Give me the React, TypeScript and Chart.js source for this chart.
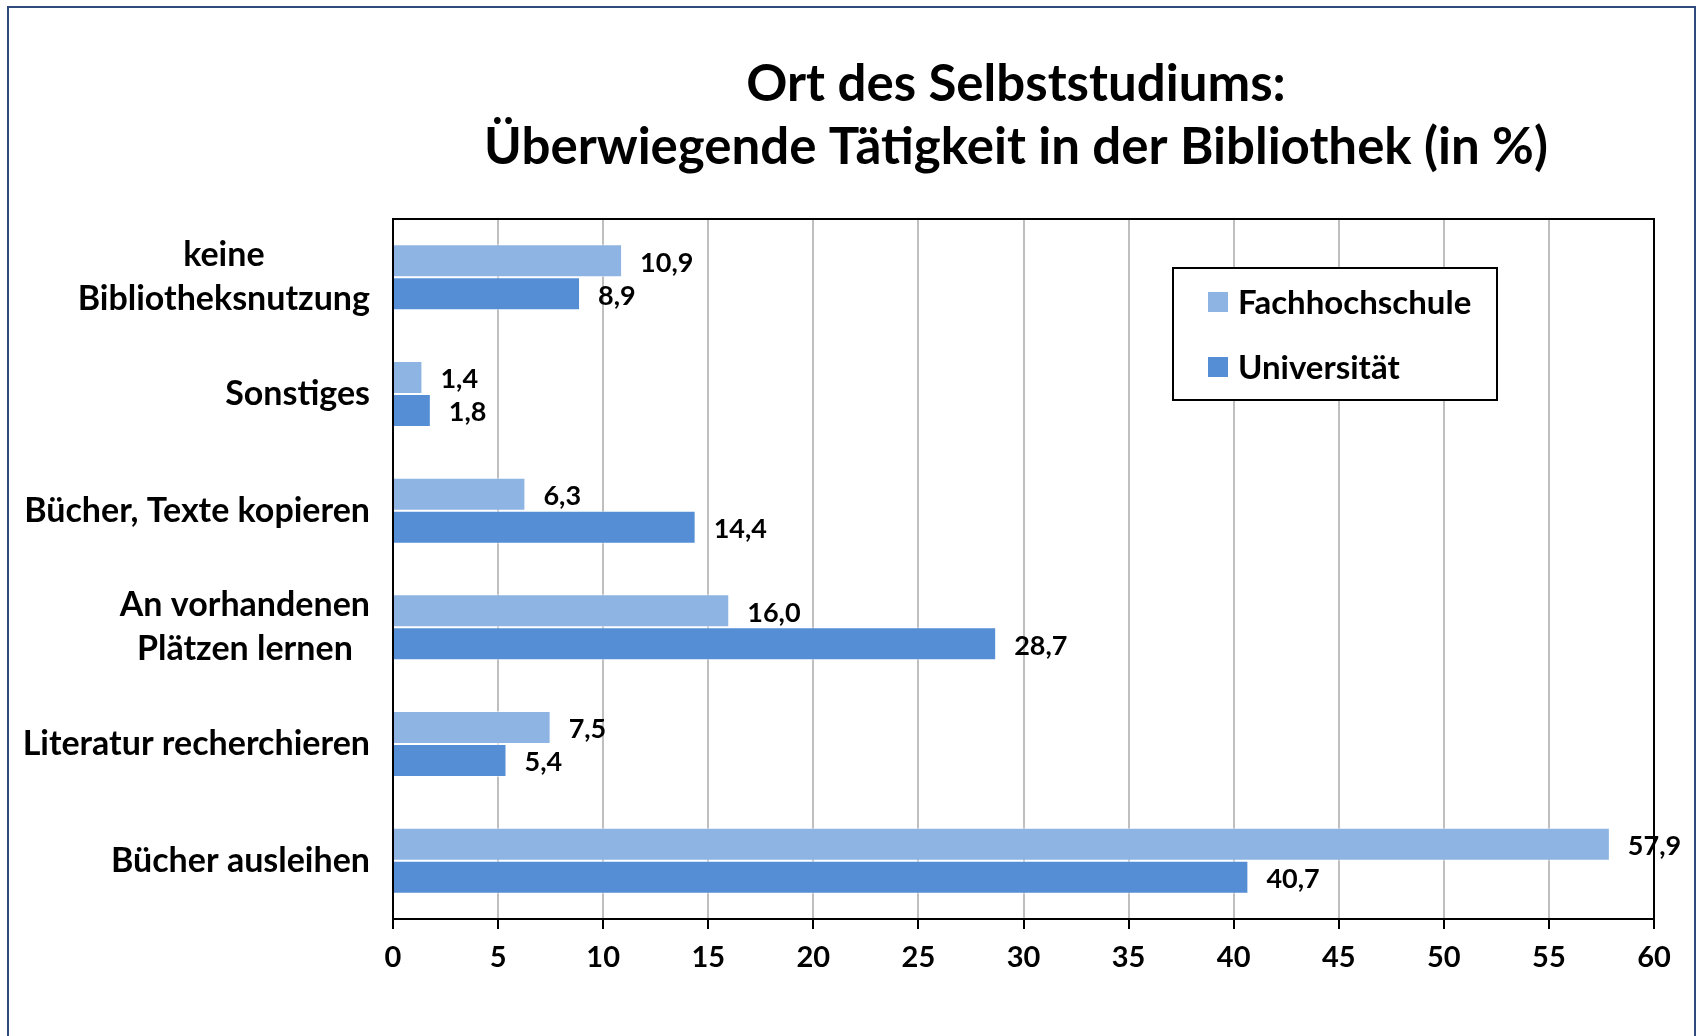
import React, { useEffect, useRef } from 'react';
import { Chart, registerables } from 'chart.js';

Chart.register(...registerables);

const categories: string[][] = [
  ['keine', 'Bibliotheksnutzung'],
  ['Sonstiges'],
  ['Bücher, Texte kopieren'],
  ['An vorhandenen', 'Plätzen lernen'],
  ['Literatur recherchieren'],
  ['Bücher ausleihen'],
];
const seriesNames = ['Fachhochschule', 'Universität'];
const fachhochschule = [10.9, 1.4, 6.3, 16.0, 7.5, 57.9];
const universitaet = [8.9, 1.8, 14.4, 28.7, 5.4, 40.7];
const xMin = 0;
const xMax = 60;
const xStep = 5;
const titleLines = ['Ort des Selbststudiums:', 'Überwiegende Tätigkeit in der Bibliothek (in %)'];

const COLORS = ['#8EB4E3', '#558ED5'];
const FONT = 'Lato, "Open Sans", sans-serif';

const fmt = (v: number) => v.toFixed(1).replace('.', ',');

const decorPlugin = {
  id: 'decor',
  beforeDraw(chart: any) {
    const { ctx, width, height } = chart;
    ctx.save();
    ctx.fillStyle = '#ffffff';
    ctx.fillRect(0, 0, width, height);
    ctx.strokeStyle = '#2F4B7C';
    ctx.lineWidth = 2;
    ctx.strokeRect(8, 7, 1687, height + 20);
    ctx.restore();
  },
  afterDraw(chart: any) {
    const { ctx, chartArea } = chart;
    const yScale = chart.scales.y;
    ctx.save();
    // plot border
    ctx.strokeStyle = '#000000';
    ctx.lineWidth = 2;
    ctx.strokeRect(chartArea.left, chartArea.top, chartArea.right - chartArea.left, chartArea.bottom - chartArea.top);

    // title
    ctx.fillStyle = '#000000';
    ctx.font = `bold 51px ${FONT}`;
    ctx.textAlign = 'center';
    ctx.textBaseline = 'alphabetic';
    const tx = 1016;
    ctx.fillText(titleLines[0], tx, 101);
    ctx.fillText(titleLines[1], tx, 164);

    // category labels (multi-line centered, block right-aligned)
    ctx.font = `bold 34px ${FONT}`;
    ctx.textBaseline = 'middle';
    const labelRight = chartArea.left - 23;
    const lineH = 44;
    categories.forEach((lines, i) => {
      const y = yScale.getPixelForValue(i);
      const maxW = Math.max(...lines.map((l) => ctx.measureText(l).width));
      const cx = labelRight - maxW / 2;
      ctx.textAlign = 'center';
      lines.forEach((l, j) => {
        const ly = y + (j - (lines.length - 1) / 2) * lineH;
        ctx.fillText(l, cx, ly);
      });
    });

    // data labels
    ctx.font = `bold 27px ${FONT}`;
    ctx.textAlign = 'left';
    ctx.textBaseline = 'middle';
    chart.data.datasets.forEach((ds: any, di: number) => {
      const meta = chart.getDatasetMeta(di);
      meta.data.forEach((bar: any, i: number) => {
        ctx.fillText(fmt(ds.data[i]), bar.x + 18, bar.y + 2);
      });
    });

    // legend
    const lx = 1173, ly = 268, lw = 324, lh = 132;
    ctx.fillStyle = '#ffffff';
    ctx.fillRect(lx, ly, lw, lh);
    ctx.strokeStyle = '#000000';
    ctx.lineWidth = 2;
    ctx.strokeRect(lx, ly, lw, lh);
    ctx.font = `bold 33px ${FONT}`;
    ctx.textAlign = 'left';
    ctx.textBaseline = 'middle';
    const rows = [302, 367];
    seriesNames.forEach((name, i) => {
      ctx.fillStyle = COLORS[i];
      ctx.fillRect(lx + 35, rows[i] - 10, 20, 20);
      ctx.fillStyle = '#000000';
      ctx.fillText(name, lx + 65, rows[i] + 1);
    });
    ctx.restore();
  },
};

export default function App() {
  const canvasRef = useRef<HTMLCanvasElement | null>(null);

  useEffect(() => {
    const canvas = canvasRef.current;
    if (!canvas) return;
    const chart = new Chart(canvas, {
      type: 'bar',
      data: {
        labels: categories,
        datasets: [
          {
            label: seriesNames[0],
            data: fachhochschule,
            backgroundColor: COLORS[0],
            borderColor: 'rgba(255,255,255,0.55)',
            borderWidth: 1,
            categoryPercentage: 0.566,
            barPercentage: 1.0,
          },
          {
            label: seriesNames[1],
            data: universitaet,
            backgroundColor: COLORS[1],
            borderColor: 'rgba(255,255,255,0.55)',
            borderWidth: 1,
            categoryPercentage: 0.566,
            barPercentage: 1.0,
          },
        ],
      },
      options: {
        indexAxis: 'y',
        responsive: false,
        animation: false,
        devicePixelRatio: 1,
        layout: { padding: { left: 393, right: 48, top: 219, bottom: 57 } },
        plugins: {
          legend: { display: false },
          title: { display: false },
          tooltip: { enabled: false },
        },
        scales: {
          x: {
            type: 'linear',
            position: 'bottom',
            min: xMin,
            max: xMax,
            ticks: {
              stepSize: xStep,
              color: '#000000',
              font: { family: FONT, weight: 'bold', size: 29 },
              padding: 11,
            },
            grid: {
              color: '#BFBFBF',
              lineWidth: 2,
              tickColor: '#000000',
              tickLength: 10,
              tickWidth: 2,
            },
            border: { display: true, color: '#000000', width: 2 },
            afterFit: (scale: any) => {
              scale.height = 60;
            },
          },
          y: {
            type: 'category',
            position: 'left',
            ticks: { display: false },
            grid: { display: false },
            border: { display: true, color: '#000000', width: 2 },
            afterFit: (scale: any) => {
              scale.width = 0;
            },
          },
        },
      },
      plugins: [decorPlugin],
    } as any);
    return () => chart.destroy();
  }, []);

  return (
    <div style={{ position: 'fixed', left: 0, top: 0, width: 1702, height: 1036, background: '#fff' }}>
      <canvas ref={canvasRef} width={1702} height={1036} style={{ display: 'block', width: 1702, height: 1036 }} />
    </div>
  );
}
